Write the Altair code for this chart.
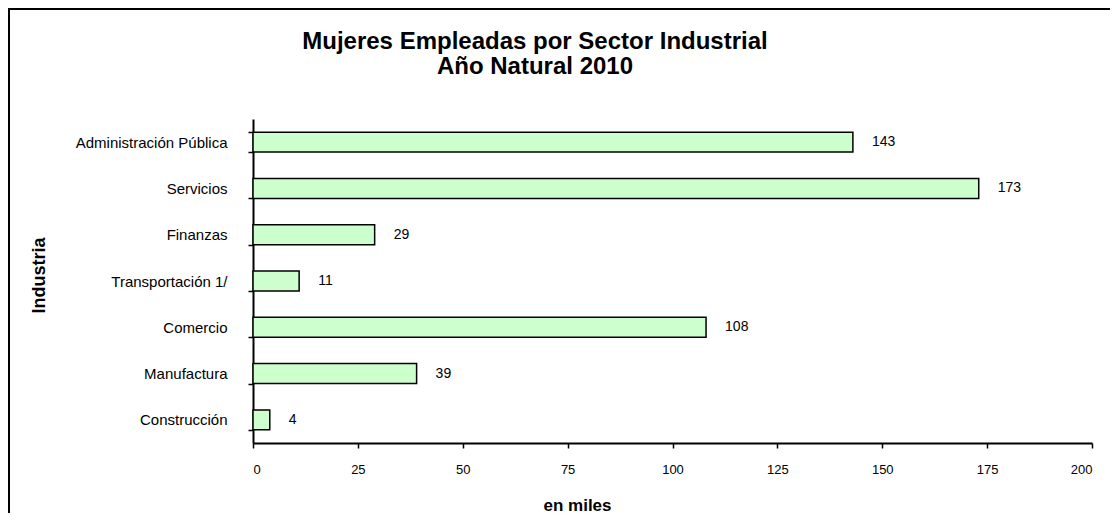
import altair as alt
import pandas as pd

industries = ["Administración Pública", "Servicios", "Finanzas", "Transportación 1/",
              "Comercio", "Manufactura", "Construcción"]
values = [143, 173, 29, 11, 108, 39, 4]
x_ticks = [0, 25, 50, 75, 100, 125, 150, 175, 200]
title_lines = ["Mujeres Empleadas por Sector Industrial", "Año Natural 2010"]

df = pd.DataFrame({"Industria": industries, "Valor": values})

FONT = "Liberation Sans"

y_enc = alt.Y(
    "Industria:N",
    sort=industries,
    scale=alt.Scale(paddingInner=0.57, paddingOuter=0.285),
    axis=alt.Axis(
        title="Industria", tickBand="extent", domainColor="black", domainWidth=2,
        tickColor="black", tickWidth=1.5, tickSize=5, labelPadding=21,
        labelFont=FONT, labelFontSize=15, labelColor="black",
        titleFont=FONT, titleFontSize=18, titleFontWeight="bold", titleColor="black",
        titleX=-209, titleY=156, titleBaseline="alphabetic", titleAngle=-90,
        titleAlign="center",
    ),
)
x_enc = alt.X(
    "Valor:Q",
    scale=alt.Scale(domain=[0, 200], nice=False),
    axis=alt.Axis(
        values=x_ticks, title="en miles", grid=False, domainColor="black", domainWidth=2,
        tickColor="black", tickWidth=1.5, tickSize=5, labelPadding=15,
        labelFont=FONT, labelFontSize=13, labelColor="black",
        titleFont=FONT, titleFontSize=17, titleFontWeight="bold", titleColor="black",
        titleX=324, titleY=67, titleBaseline="alphabetic", titleAlign="center",
    ),
)

frame = alt.Chart(alt.Data(values=[{}])).mark_rect(
    fill="transparent", stroke="black", strokeWidth=2
).encode(
    x=alt.value(-244), x2=alt.value(2000), y=alt.value(-110), y2=alt.value(2000)
)

title = alt.Chart(alt.Data(values=[{}])).mark_text(
    font=FONT, fontSize=24, fontWeight="bold", color="black",
    align="center", baseline="alphabetic", lineHeight=25,
).encode(
    x=alt.value(282), y=alt.value(-70), text=alt.value(title_lines)
)

bars = alt.Chart(df).mark_bar(
    color="#CCFFCC", stroke="black", strokeWidth=1.5
).encode(x=x_enc, y=y_enc)

labels = alt.Chart(df).mark_text(
    align="left", baseline="middle", dx=19, font=FONT, fontSize=14, color="black"
).encode(
    x=alt.X("Valor:Q"),
    y=alt.Y("Industria:N", sort=industries),
    text=alt.Text("Valor:Q"),
)

chart = alt.layer(frame, title, bars, labels).properties(
    width=839,
    height=324,
    autosize=alt.AutoSizeParams(type="none"),
    padding={"left": 245, "top": 111, "right": 18, "bottom": 70},
).configure_view(stroke=None)

chart.save("out.html", embed_options={"renderer": "svg", "actions": False})
